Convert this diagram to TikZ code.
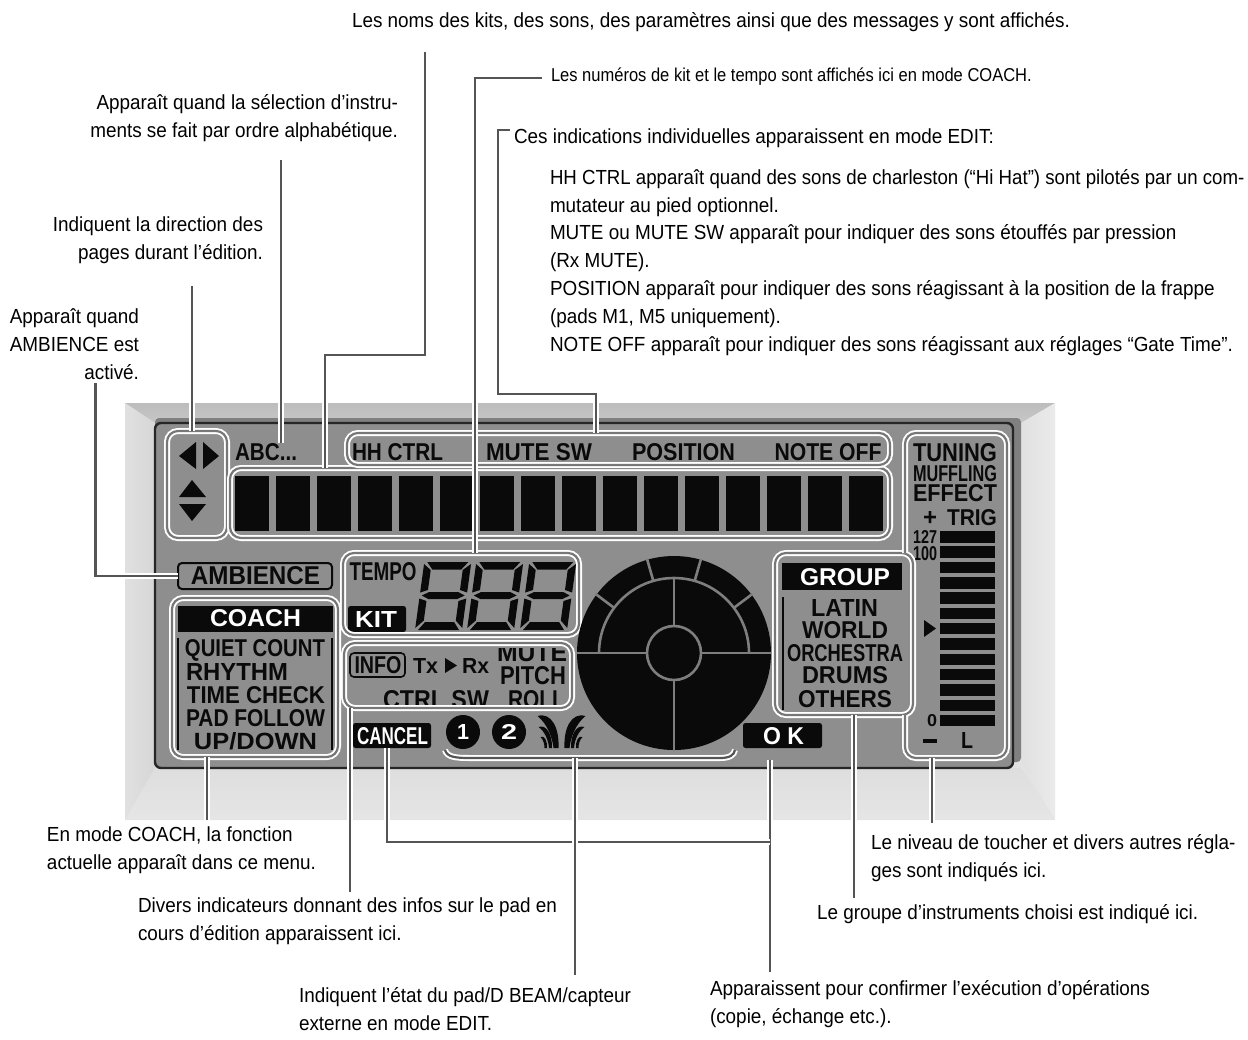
\documentclass[tikz,border=0pt]{standalone}
\usepackage{fontspec}
\usepackage{graphicx}
\usetikzlibrary{fit}
\setmainfont{Liberation Sans}
\newfontfamily\notefont[FakeStretch=0.927]{Liberation Sans}
\newfontfamily\tightnotefont[FakeStretch=0.915]{Liberation Sans}
\newfontfamily\smallnotefont[FakeStretch=0.887]{Liberation Sans}

% one pixel of the picture
\newdimen\pxu
\pxu=0.02cm

% lcd word fitted to a width and a height in pixels
\newcommand{\lcdt}[3]{\resizebox{#1\pxu}{#2\pxu}{#3}}

% seven segments, slanted, standing on (#1,630)
\newcommand{\segdigit}[1]{%
    \begin{scope}[shift={(#1,630)}, xslant=0.137]
        \fill[lcdblack] (6,-68) -- (47,-68) -- (41,-60.5) -- (12,-60.5) -- cycle;
        \fill[lcdblack] (6,0) -- (47,0) -- (41,-8) -- (12,-8) -- cycle;
        \fill[lcdblack] (50,-66) -- (50,-37.5) -- (42.5,-40) -- (42.5,-60) -- cycle;
        \fill[lcdblack] (50,-31.5) -- (50,-2) -- (42.5,-9.5) -- (42.5,-29) -- cycle;
        \fill[lcdblack] (3,-66) -- (3,-37.5) -- (10.5,-40) -- (10.5,-60) -- cycle;
        \fill[lcdblack] (3,-31.5) -- (3,-2) -- (10.5,-9.5) -- (10.5,-29) -- cycle;
        \fill[lcdblack] (5,-34.5) -- (12,-38) -- (41,-38) -- (48,-34.5) -- (41,-31) -- (12,-31) -- cycle;
    \end{scope}}

\definecolor{lcdblack}{HTML}{0A0A0A}
\definecolor{panelgray}{HTML}{8E8E8E}
\definecolor{padline}{HTML}{7E7E7E}
\definecolor{leadgray}{HTML}{555555}

\tikzset{
    halo/.style={draw=white, line width=1.9*\pxu, double=#1, double distance=2.2*\pxu},
    halo/.default=leadgray,
    halobox/.style={halo=leadgray!80, inner sep=0pt, outer sep=0pt, rounded corners=0.22cm},
    leader/.style={halo=leadgray},
    lcd/.style={inner sep=0pt, outer sep=0pt, text=lcdblack, font=\bfseries},
    lcdw/.style={lcd, text=white},
    blackbox/.style={fill=lcdblack, inner sep=0pt, outer sep=0pt, rounded corners=0.05cm},
    note/.style={inner sep=0pt, outer sep=0pt, font=\notefont\fontsize{11.6}{15.8}\selectfont},
    smallnote/.style={inner sep=0pt, outer sep=0pt, font=\smallnotefont\fontsize{10.6}{14}\selectfont}
}

\begin{document}
\begin{tikzpicture}[x=0.02cm, y=-0.02cm]
    \useasboundingbox (0,0) rectangle (1248,1039);

    % Bezel around the display
    \fill[black!11] (125,403) rectangle (1055,820);
    \shade[top color=black!26, bottom color=black!22] (125,403) -- (1055,403) -- (1021,423) -- (155,423) -- cycle;
    \shade[left color=black!12, right color=black!16] (125,403) -- (155,423) -- (155,768) -- (125,820) -- cycle;
    \shade[left color=black!12, right color=black!8] (1021,423) -- (1055,403) -- (1055,820) -- (1021,762) -- cycle;
    \shade[top color=black!13, bottom color=black!10] (155,768) -- (1021,768) -- (1055,820) -- (125,820) -- cycle;

    % Glass of the display
    \fill[black!50, rounded corners=0.08cm] (155,418) rectangle (1021,762);
    \draw[fill=panelgray, draw=black!85, line width=2.4*\pxu, rounded corners=0.12cm] (155,423) rectangle (1013,768);

    % Arrows
    \fill[lcdblack] (179,456) -- (196,442) -- (196,469) -- cycle;
    \fill[lcdblack] (219,456) -- (203,442) -- (203,469) -- cycle;
    \fill[lcdblack] (192,480) -- (206,497) -- (179,497) -- cycle;
    \fill[lcdblack] (192,521) -- (206,504) -- (179,504) -- cycle;
    \node[halobox, fit={(167,431) (227,538)}] (arrowbox) {};

    % Character display
    \foreach \i in {0,...,15} {
        \fill[lcdblack] ({235+40.9*\i},476) rectangle ({269+40.9*\i},531);
    }
    \node[halobox, fit={(230,468) (890,538)}] (charbox) {};

    % Words above it
    \node[lcd] (abc) at (266,452) {\lcdt{62}{17}{ABC...}};
    \node[lcd] (hhctrl) at (397.5,452) {\lcdt{91}{17}{HH CTRL}};
    \node[lcd] (mutesw) at (539,452) {\lcdt{106}{17}{MUTE SW}};
    \node[lcd] (position) at (683.5,452) {\lcdt{103}{17}{POSITION}};
    \node[lcd] (noteoff) at (828,452) {\lcdt{107}{17}{NOTE OFF}};
    \node[halobox, fit={(347,433) (890,465)}] (editbox) {};

    % Ambience
    \node[draw=lcdblack, line width=2*\pxu, rounded corners=0.08cm, inner sep=0pt, outer sep=0pt, fit={(178,563) (332,589)}] (ambbox) {};
    \node[lcd] (amb) at (255.5,576) {\lcdt{129}{18}{AMBIENCE}};

    % Coach menu
    \node[blackbox, rounded corners=0pt, fit={(178,606) (333,632)}] (coachhead) {};
    \node[lcdw] (coach) at (255.5,618) {\lcdt{91}{17}{COACH}};
    \draw[lcdblack, line width=2*\pxu] (178,638) -- (178,750);
    \draw[lcdblack, line width=2*\pxu] (332,638) -- (332,750);
    \foreach \i/\cx/\cy/\tw/\word in {1/255/650/140/QUIET COUNT, 2/237/672/102/RHYTHM, 3/256/695/138/TIME CHECK, 4/255.5/718/139/PAD FOLLOW, 5/255.5/741/123/{UP/DOWN}} {
        \node[lcd] (menu\i) at (\cx,\cy) {\lcdt{\tw}{17}{\word}};
    }
    \node[halobox, fit={(172,598) (338,757)}] (coachbox) {};

    % Tempo and kit
    \node[lcd] (tempo) at (383,572) {\lcdt{67}{18}{TEMPO}};
    \node[blackbox, fit={(348,606) (406,632)}] (kitbox) {};
    \node[lcdw] (kit) at (376,619) {\lcdt{42}{16}{KIT}};
    \foreach \x in {412,464,517} {
        \segdigit{\x}
    }
    \node[halobox, fit={(343,553) (579,635)}] (tempobox) {};

    % Pad information, cut off by the frame above and below
    \node[draw=lcdblack, line width=1.6*\pxu, rounded corners=0.08cm, inner sep=0pt, outer sep=0pt, fit={(350,653) (405,677)}] (infobox) {};
    \node[lcd] (info) at (378,665) {\lcdt{47}{17}{INFO}};
    \node[lcd] (tx) at (425.5,666) {\lcdt{25}{15}{Tx}};
    \fill[lcdblack] (457,665.5) -- (445,658) -- (445,673) -- cycle;
    \node[lcd] (rx) at (475.5,666) {\lcdt{27}{15}{Rx}};
    \begin{scope}
        \clip (344,648) rectangle (572,704);
        \node[lcd] (mute) at (532,653) {\lcdt{70}{18}{MUTE}};
        \node[lcd] (pitch) at (533,676) {\lcdt{66}{18}{PITCH}};
        \node[lcd] (ctrlsw) at (436,700) {\lcdt{106}{18}{CTRL SW}};
        \node[lcd] (roll) at (536.5,700) {\lcdt{57}{18}{ROLL}};
    \end{scope}
    \node[halobox, fit={(344,643) (572,708)}] (infoframe) {};

    % Bottom row
    \node[blackbox, fit={(353,723) (431,748)}] (cancelbox) {};
    \node[lcdw] (cancel) at (392.5,736.5) {\lcdt{71}{17}{CANCEL}};
    \node[circle, fill=lcdblack, minimum size=34*\pxu, inner sep=0pt, outer sep=0pt] (one) at (463,732) {};
    \node[lcdw] (onetext) at (463,732) {\lcdt{12}{15}{1}};
    \node[circle, fill=lcdblack, minimum size=34*\pxu, inner sep=0pt, outer sep=0pt] (two) at (509,732) {};
    \node[lcdw] (twotext) at (509,732) {\lcdt{16}{15}{2}};
    \foreach \s in {1,-1} {
        \begin{scope}[shift={(561.5,0)}, xscale=\s]
            \fill[lcdblack] (-24,716) .. controls (-10,712) and (-2,728) .. (-3,748) -- (-8,748) .. controls (-9,738) and (-14,724) .. (-24,716) -- cycle;
            \fill[lcdblack] (-23,727) .. controls (-15,724) and (-9,735) .. (-9.5,748) -- (-12.5,748) .. controls (-13,740) and (-17,731) .. (-23,727) -- cycle;
            \fill[lcdblack] (-21,737) .. controls (-17,735) and (-14,741) .. (-14.5,748) -- (-17,748) .. controls (-17,744) and (-18,740) .. (-21,737) -- cycle;
        \end{scope}
    }
    \node[blackbox, fit={(743,723) (822,748)}] (okbox) {};
    \node[lcdw] (ok) at (783.5,736.5) {\lcdt{41}{17}{O K}};
    \coordinate (bracket) at (575,758);
    \draw[halo] (445,750) .. controls (447,757) and (455,758) .. (470,758) -- (bracket) -- (720,758) .. controls (730,758) and (734,755) .. (735,750);

    % Pad: black disc, gray lines, up is positive in here
    \begin{scope}[shift={(674,653)}, y=0.02cm]
        \fill[lcdblack] (0,0) circle (97);
        \draw[padline, line width=2.6*\pxu] (-97,0) -- (97,0);
        \draw[padline, line width=2.6*\pxu] (0,75) -- (0,-97);
        \draw[padline, line width=2.6*\pxu] (75,0) arc (0:180:75);
        \foreach \a in {37,74,106,143} {
            \draw[padline, line width=2.6*\pxu] (\a:75) -- (\a:98);
        }
        \draw[fill=lcdblack, draw=padline, line width=2.6*\pxu] (0,0) circle (27);
    \end{scope}

    % Group
    \node[blackbox, rounded corners=0pt, fit={(782,563) (902,590)}] (grouphead) {};
    \node[lcdw] (group) at (845,577) {\lcdt{90}{17}{GROUP}};
    \draw[lcdblack, line width=2*\pxu] (783,597) -- (783,710);
    \foreach \i/\cx/\cy/\tw/\word in {1/844.5/608/67/LATIN, 2/845/630/86/WORLD, 3/845/653/116/ORCHESTRA, 4/845/675.5/86/DRUMS, 5/845/699/94/OTHERS} {
        \node[lcd] (grp\i) at (\cx,\cy) {\lcdt{\tw}{17}{\word}};
    }

    % Level meter
    \node[lcd] (tuning) at (955,452.5) {\lcdt{84}{18}{TUNING}};
    \node[lcd] (muffling) at (955,473.5) {\lcdt{84}{16}{MUFFLING}};
    \node[lcd] (effect) at (955,493.5) {\lcdt{84}{17}{EFFECT}};
    \node[lcd] (plus) at (930,518) {\lcdt{14}{14}{+}};
    \node[lcd] (trig) at (972,518) {\lcdt{50}{16}{TRIG}};
    \node[lcd] (top) at (925,536.5) {\lcdt{24}{13}{127}};
    \node[lcd] (hundred) at (925,554) {\lcdt{24}{14}{100}};
    \foreach \i in {0,...,12} {
        \fill[lcdblack] (940,{531+15.33*\i}) rectangle (995,{542.5+15.33*\i});
    }
    \fill[lcdblack] (936,628.5) -- (924,620) -- (924,637) -- cycle;
    \node[lcd] (zero) at (932,721) {\lcdt{10}{12}{0}};
    \fill[lcdblack] (923,739) rectangle (937,743);
    \node[lcd] (ell) at (967,740) {\lcdt{12}{16}{L}};

    \coordinate (levelfoot) at (932,758);
    \node[halobox, fit={(775,553) (913,715)}] (groupbox) {};
    \draw[halo=leadgray!80, rounded corners=0.22cm] (905,553) -- (905,433) -- (1007,433) -- (1007,758) -- (905,758) -- (905,715);

    % Notes, a node with several lines sits on the base of its last line
    \node[note, anchor=base west] (noteNames) at (352,27) {Les noms des kits, des sons, des paramètres ainsi que des messages y sont affichés.};
    \node[smallnote, anchor=base west] (noteKit) at (551,81) {Les numéros de kit et le tempo sont affichés ici en mode COACH.};
    \node[note, anchor=base west] (noteEdit) at (514,143) {Ces indications individuelles apparaissent en mode EDIT:};
    \node[note, anchor=base west, align=left] (noteEditList) at (550,351) {{\tightnotefont HH CTRL apparaît quand des sons de charleston (“Hi Hat”) sont pilotés par un com-}\\
        mutateur au pied optionnel.\\
        MUTE ou MUTE SW apparaît pour indiquer des sons étouffés par pression\\
        (Rx MUTE).\\
        POSITION apparaît pour indiquer des sons réagissant à la position de la frappe\\
        (pads M1, M5 uniquement).\\
        NOTE OFF apparaît pour indiquer des sons réagissant aux réglages “Gate Time”.};
    \node[note, anchor=base east, align=right] (noteAbc) at (398,137) {Apparaît quand la sélection d’instru-\\ments se fait par ordre alphabétique.};
    \node[note, anchor=base east, align=right] (noteArrows) at (263,259) {Indiquent la direction des\\pages durant l’édition.};
    \node[note, anchor=base east, align=right] (noteAmb) at (139,379) {Apparaît quand\\AMBIENCE est\\activé.};
    \node[note, anchor=base west, align=left] (noteCoach) at (47,869) {En mode COACH, la fonction\\actuelle apparaît dans ce menu.};
    \node[note, anchor=base west, align=left] (noteInfo) at (138,940) {Divers indicateurs donnant des infos sur le pad en\\cours d’édition apparaissent ici.};
    \node[note, anchor=base west, align=left] (notePad) at (299,1030) {Indiquent l’état du pad/D BEAM/capteur\\externe en mode EDIT.};
    \node[note, anchor=base west, align=left] (noteOk) at (710,1023) {Apparaissent pour confirmer l’exécution d’opérations\\(copie, échange etc.).};
    \node[note, anchor=base west, align=left] (noteLevel) at (871,877) {Le niveau de toucher et divers autres régla-\\ges sont indiqués ici.};
    \node[note, anchor=base west] (noteGroup) at (817,919) {Le groupe d’instruments choisi est indiqué ici.};

    % Free ends of the leaders
    \coordinate (fNames) at (425,52);
    \coordinate (fAbc) at (281,160);
    \coordinate (fArrows) at (192,286);
    \coordinate (fAmb) at (95.5,383);
    \coordinate (fKit) at (542,78);
    \coordinate (fEdit) at (510,130);
    \coordinate (fCoach) at (207,820);
    \coordinate (fInfo) at (350,892);
    \coordinate (fCancel) at (387,842);
    \coordinate (fOkTop) at (770,760);
    \coordinate (fOk) at (770,972);
    \coordinate (fPad) at (575,975);
    \coordinate (fGroup) at (854,898);
    \coordinate (fLevel) at (932,823);

    % Leaders
    \draw[leader] (fNames) -- (425,355) -- (325,355) -- (325,355 |- charbox.north);
    \draw[leader] (fAbc) -- (fAbc |- abc.north);
    \draw[leader] (fArrows) -- (fArrows |- arrowbox.north);
    \draw[leader] (fAmb) |- (ambbox.west);
    \draw[leader] (fKit) -- (475,78) -- (475,78 |- tempobox.north);
    \draw[leader] (fEdit) -- (498,130) -- (498,394) -- (596,394) -- (596,394 |- editbox.north);
    \draw[leader] (fCoach) -- (fCoach |- coachbox.south);
    \draw[leader] (fInfo) -- (fInfo |- infoframe.south);
    \draw[leader] (fOkTop) -- (fOk);
    \draw[leader] (fCancel |- cancelbox.south) -- (fCancel) -- (fCancel -| fOk);
    \draw[leader] (fPad) -- (bracket);
    \draw[leader] (fGroup) -- (fGroup |- groupbox.south);
    \draw[leader] (fLevel) -- (levelfoot);
\end{tikzpicture}
\end{document}
